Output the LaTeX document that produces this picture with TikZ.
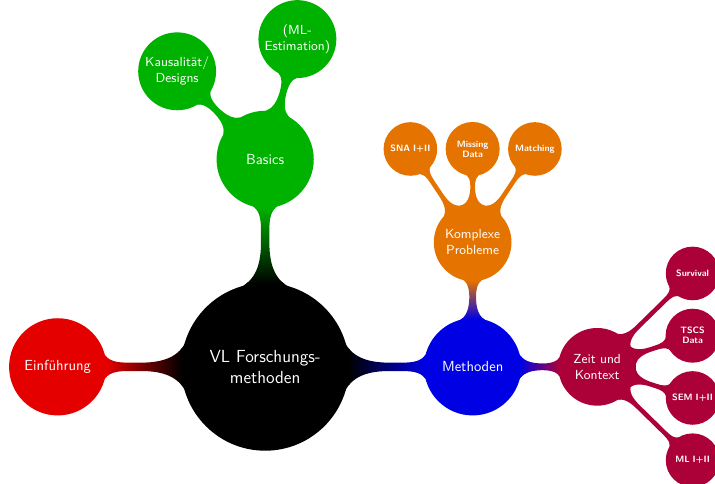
\documentclass[tikz,border=0pt]{standalone}
\usepackage{tikz}
\usetikzlibrary{mindmap,calc}
\colorlet{introc}{red!90!black}
\colorlet{basec}{green!70!black}
\colorlet{methc}{blue!90!black}
\colorlet{probc}{orange!90!black}
\colorlet{timec}{purple!90!black}
\tikzset{
  hub/.style={concept,concept color=black,minimum size=4cm,text width=3.2cm,font=\sffamily\large},
  lone/.style={concept,concept color=#1,minimum size=2.3cm,text width=2cm,font=\sffamily},
  ltwo/.style={concept,concept color=#1,minimum size=1.83cm,text width=1.6cm,font=\sffamily\small},
  lthree/.style={concept,concept color=#1,minimum size=1.25cm,text width=1.1cm,
    font=\sffamily\bfseries\fontsize{6.3}{6.8}\selectfont},
  link/.style 2 args={circle connection bar switch color=from (#1) to (#2)}
}
\begin{document}
\begin{tikzpicture}[mindmap,text=white,align=center]
\clip (-6.39,-2.82) rectangle (10.84,8.84);
% centre and first ring
\node[hub] (vl) at (0,0) {VL Forschungs-\\methoden};
\node[lone=introc] (intro) at (-5,0) {Einführung};
\node[lone=basec] (basics) at (0,5) {Basics};
\node[lone=methc] (meth) at (5,0) {Methoden};
% Basics
\node[ltwo=basec] (kaus) at ($(basics)+(135:3)$) {Kausalität/\\Designs};
\node[ltwo=basec] (mlest) at ($(basics)+(75:3)$) {(ML-\\Estimation)};
% Methoden
\node[ltwo=probc] (prob) at ($(meth)+(0,3)$) {Komplexe\\Probleme};
\node[ltwo=timec] (time) at ($(meth)+(3,0)$) {Zeit und\\Kontext};
\node[lthree=probc] (sna) at ($(prob)+(-1.5,2.25)$) {SNA I+II};
\node[lthree=probc] (miss) at ($(prob)+(0,2.25)$) {Missing\\Data};
\node[lthree=probc] (match) at ($(prob)+(1.5,2.25)$) {Matching};
\node[lthree=timec] (surv) at ($(time)+(2.3,2.25)$) {Survival};
\node[lthree=timec] (tscs) at ($(time)+(2.3,0.75)$) {TSCS\\Data};
\node[lthree=timec] (sem) at ($(time)+(2.3,-0.75)$) {SEM I+II};
\node[lthree=timec] (ml) at ($(time)+(2.3,-2.25)$) {ML I+II};
% connections
\path (vl) to[link={black}{introc}] (intro);
\path (vl) to[link={black}{basec}] (basics);
\path (vl) to[link={black}{methc}] (meth);
\path (basics) to[link={basec}{basec}] (kaus);
\path (basics) to[link={basec}{basec}] (mlest);
\path (meth) to[link={methc}{probc}] (prob);
\path (meth) to[link={methc}{timec}] (time);
\foreach \n in {sna,miss,match}
  \path (prob) to[link={probc}{probc}] (\n);
\foreach \n in {surv,tscs,sem,ml}
  \path (time) to[link={timec}{timec}] (\n);
\end{tikzpicture}
\end{document}
